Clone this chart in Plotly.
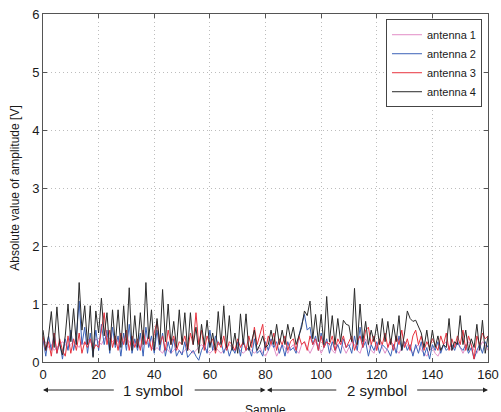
import plotly.graph_objects as go

samples = list(range(161))

antenna1 = [0.3,0.35,0.25,0.3,0.2,0.25,0.3,0.35,0.3,0.25,0.3,0.35,0.3,0.25,0.35,0.3,0.4,0.35,0.3,0.4,
            0.35,0.3,0.4,0.45,0.4,0.35,0.4,0.35,0.3,0.35,0.4,0.35,0.3,0.35,0.3,0.25,0.3,0.35,0.3,0.25,
            0.2,0.25,0.2,0.15,0.25,0.2,0.15,0.2,0.25,0.2,0.15,0.2,0.25,0.2,0.15,0.2,0.25,0.3,0.25,0.2,
            0.15,0.2,0.25,0.2,0.15,0.2,0.25,0.3,0.25,0.2,0.25,0.2,0.15,0.2,0.25,0.2,0.15,0.2,0.25,0.15,
            0.1,0.2,0.3,0.25,0.1,0.2,0.3,0.25,0.15,0.25,0.3,0.2,0.15,0.3,0.35,0.25,0.15,0.25,0.35,0.3,
            0.15,0.25,0.35,0.3,0.2,0.15,0.3,0.35,0.25,0.15,0.25,0.35,0.3,0.2,0.15,0.3,0.4,0.3,0.2,0.15,
            0.3,0.35,0.25,0.15,0.25,0.35,0.3,0.2,0.15,0.25,0.35,0.3,0.2,0.15,0.25,0.3,0.2,0.15,0.1,0.2,
            0.25,0.15,0.1,0.2,0.3,0.35,0.25,0.2,0.3,0.35,0.25,0.15,0.25,0.35,0.3,0.2,0.15,0.25,0.35,0.3,
            0.2]

antenna2 = [0.4,0.1,0.45,0.2,0.5,0.15,0.35,0.05,0.4,0.2,0.55,0.2,0.45,1.05,0.3,0.6,0.15,0.5,0.1,0.55,
            0.2,0.65,0.3,0.55,0.15,0.6,0.25,0.45,0.1,0.5,0.2,0.65,0.15,0.4,0.2,0.5,0.1,0.6,0.25,0.45,
            0.15,0.55,0.2,0.5,0.1,0.35,0.15,0.4,0.1,0.2,0.12,0.35,0.08,0.15,0.2,0.1,0.03,0.2,0.3,0.15,
            0.55,0.2,0.45,0.3,0.35,0.15,0.3,0.1,0.25,0.15,0.35,0.1,0.4,0.2,0.25,0.1,0.4,0.15,0.2,0.1,
            0.35,0.2,0.4,0.25,0.35,0.15,0.3,0.1,0.35,0.2,0.25,0.15,0.45,0.65,0.82,0.55,0.6,0.3,0.45,0.2,
            0.5,0.25,0.4,0.15,0.35,0.2,0.3,0.15,0.4,0.25,0.3,0.15,0.45,0.2,0.6,0.25,0.35,0.1,0.3,0.2,
            0.35,0.15,0.3,0.25,0.2,0.1,0.3,0.15,0.45,0.2,0.35,0.2,0.3,0.1,0.3,0.15,0.35,0.1,0.25,0.05,
            0.3,0.2,0.35,0.15,0.3,0.2,0.25,0.3,0.2,0.35,0.25,0.2,0.3,0.15,0.25,0.05,0.2,0.3,0.15,0.35,
            0.25]

antenna3 = [0.45,0.2,0.35,0.1,0.5,0.15,0.4,0.2,0.1,0.45,0.15,0.4,0.2,0.5,0.15,0.35,0.25,0.4,0.2,0.3,
            0.25,0.55,0.85,0.3,0.55,0.25,0.45,0.2,0.5,0.3,0.55,0.2,0.45,0.25,0.4,0.2,0.55,0.3,0.45,0.2,
            0.5,0.7,0.3,0.45,0.2,0.55,0.3,0.45,0.2,0.35,0.3,0.45,0.2,0.5,0.3,0.85,0.3,0.55,0.2,0.45,
            0.3,0.4,0.15,0.35,0.25,0.45,0.2,0.35,0.3,0.2,0.4,0.25,0.35,0.2,0.45,0.25,0.6,0.3,0.5,0.65,
            0.2,0.45,0.3,0.5,0.2,0.4,0.3,0.45,0.2,0.35,0.4,0.2,0.45,0.3,0.35,0.2,0.45,0.3,0.4,0.2,
            0.45,0.25,0.35,0.3,0.45,0.2,0.4,0.3,0.45,0.25,0.35,0.45,0.2,0.35,0.45,0.25,0.55,0.6,0.3,0.45,
            0.2,0.4,0.3,0.5,0.25,0.4,0.2,0.45,0.3,0.55,0.25,0.4,0.2,0.45,0.55,0.3,0.45,0.2,0.35,0.25,
            0.4,0.3,0.2,0.45,0.3,0.5,0.2,0.4,0.25,0.45,0.3,0.55,0.2,0.45,0.3,0.05,0.45,0.3,0.5,0.4,
            0.45]

antenna4 = [0.55,0.2,0.45,0.87,0.25,0.95,0.3,0.12,0.45,1.0,0.35,0.92,0.3,1.37,0.55,0.97,0.3,0.97,0.08,0.88,
            0.5,1.1,0.45,0.85,0.2,0.9,0.3,0.9,0.25,0.97,0.3,1.28,0.2,0.8,0.25,0.85,0.3,1.37,0.4,0.9,
            0.2,0.75,0.3,1.25,0.35,1.0,0.3,0.7,0.25,0.9,0.3,0.85,0.2,0.85,0.3,0.6,0.15,0.65,0.3,0.72,
            0.25,0.5,0.2,0.87,0.3,0.97,0.25,0.8,0.2,0.5,0.15,0.83,0.3,0.83,0.2,0.35,0.55,0.2,0.3,0.45,
            0.25,0.3,0.55,0.3,0.65,0.3,0.55,0.3,0.65,0.4,0.6,0.3,0.45,0.6,0.88,0.8,1.05,0.4,0.82,0.35,
            0.82,0.3,1.13,0.35,0.8,0.3,0.75,0.35,0.72,0.65,0.63,0.35,1.27,0.3,1.0,0.35,0.7,0.3,0.55,0.35,
            0.65,0.3,0.75,0.35,0.7,0.3,0.65,0.35,0.8,0.2,0.5,0.88,0.75,0.7,0.72,0.6,0.5,0.25,0.55,0.2,
            0.55,0.25,0.45,0.2,0.3,0.25,0.75,0.2,0.35,0.3,0.8,0.3,0.55,0.2,0.4,0.25,0.65,0.2,0.72,0.15,
            0.45]

series = [
    ("antenna 1", antenna1, "#e28cc6"),
    ("antenna 2", antenna2, "#3b62b8"),
    ("antenna 3", antenna3, "#e8323e"),
    ("antenna 4", antenna4, "#2a2a2a"),
]

xticks = [0, 20, 40, 60, 80, 100, 120, 140, 160]
yticks = [0, 1, 2, 3, 4, 5, 6]

fig = go.Figure()
for name, vals, col in series:
    fig.add_trace(go.Scatter(x=samples, y=vals, mode="lines", name=name,
                             line=dict(color=col, width=1)))

FONT = "Liberation Sans, Arial, sans-serif"
axis_common = dict(showline=True, linecolor="#555555", linewidth=1, mirror="ticks",
                   ticks="inside", ticklen=4, tickcolor="#555555", automargin=False,
                   showgrid=True, gridcolor="#bdbdbd", griddash="1px,3px", gridwidth=1,
                   zeroline=False, tickfont=dict(family=FONT, size=13, color="#1a1a1a"))

fig.update_layout(
    width=501, height=412,
    margin=dict(l=43, r=13, t=14, b=50),
    paper_bgcolor="white", plot_bgcolor="white",
    font=dict(family=FONT, color="#1a1a1a"),
    xaxis=dict(range=[0, 160], tickvals=xticks, **axis_common),
    yaxis=dict(range=[0, 6], tickvals=yticks,
               title=dict(text="Absolute value of amplitude [V]", font=dict(size=12, family=FONT), standoff=9),
               **axis_common),
    legend=dict(x=0.9865, y=0.985, xanchor="right", yanchor="top",
                bgcolor="white", bordercolor="#444444", borderwidth=1,
                font=dict(family=FONT, size=11, color="#1a1a1a"),
                tracegroupgap=0, itemwidth=30),
    showlegend=True,
)

yarrow = -0.0805
arrow_style = dict(showarrow=True, arrowhead=2, arrowsize=1, arrowwidth=1, arrowcolor="#222222",
                   text="", xref="x", yref="paper", axref="x", ayref="pixel", ay=0)
for head, tail in [(0, 26), (80, 54), (80.5, 106), (160, 134)]:
    fig.add_annotation(x=head, y=yarrow, ax=tail, **arrow_style)

for label, xpos in [("1 symbol", 39.5), ("2 symbol", 120)]:
    fig.add_annotation(x=xpos, y=yarrow, xref="x", yref="paper", text=label, showarrow=False,
                       font=dict(family=FONT, size=15, color="#1a1a1a"), yanchor="middle")

fig.add_annotation(x=80, y=-0.112, xref="x", yref="paper", text="Sample", showarrow=False,
                   yanchor="top", font=dict(family=FONT, size=12, color="#1a1a1a"))

fig.write_html("out.html")
